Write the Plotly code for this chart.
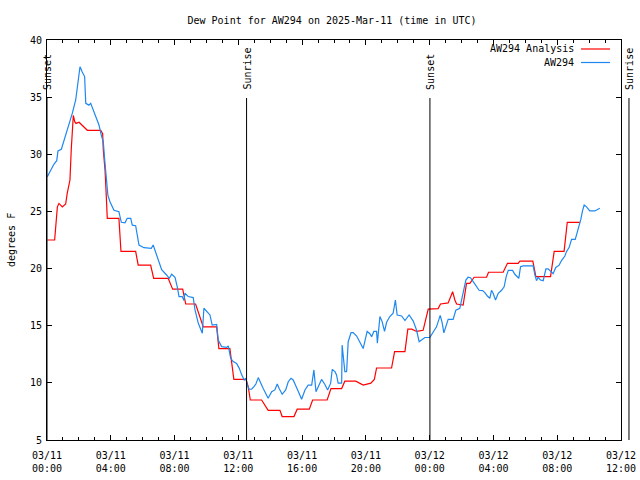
import pandas as pd
import plotly.graph_objects as go

# ---------------- data ----------------
start_time = "2025-03-11 00:00"
end_time = "2025-03-12 12:00"

# AW294 Analysis (hours since 2025-03-11 00:00 UTC, deg F)
analysis_hours = [0.02, 0.48, 0.65, 0.75, 0.96, 1.17, 1.27, 1.44, 1.52, 1.65, 1.74, 1.82, 2.01, 2.21,
                  2.53, 3.37, 3.49, 3.53, 3.64, 3.72, 3.78, 4.51, 4.64, 5.56, 5.72, 6.50, 6.69, 7.60,
                  7.88, 8.51, 8.70, 9.32, 9.80, 10.64, 10.78, 11.47, 11.64, 11.72, 12.48, 12.62, 12.75,
                  13.46, 13.87, 14.61, 14.75, 15.49, 15.69, 16.45, 16.66, 17.57, 17.81, 18.48, 18.68,
                  19.37, 19.83, 20.31, 20.53, 20.67, 21.61, 21.80, 22.45, 22.63, 22.88, 23.18, 23.59,
                  23.91, 24.53, 24.68, 25.16, 25.44, 25.58, 25.69, 26.10, 26.31, 26.52, 26.79, 27.57,
                  27.69, 28.61, 28.88, 29.55, 29.66, 30.47, 30.66, 31.58, 31.81, 32.43, 32.63, 33.42]
analysis_values = [22.5, 22.5, 25.4, 25.7, 25.4, 25.65, 26.6, 27.75, 30.4, 33.4, 32.85, 32.7, 32.8, 32.55,
                   32.1, 32.1, 31.8, 30.4, 28.6, 26.3, 24.4, 24.4, 21.5, 21.5, 20.3, 20.3, 19.15, 19.15,
                   18.2, 18.2, 16.9, 16.9, 14.9, 14.9, 13.0, 13.0, 10.85, 10.3, 10.3, 9.67, 8.5,
                   8.5, 7.6, 7.6, 7.05, 7.05, 7.7, 7.7, 8.5, 8.5, 9.5, 9.5, 10.15,
                   10.15, 9.8, 9.97, 10.3, 11.3, 11.3, 12.73, 12.73, 14.7, 14.7, 14.5, 14.6,
                   16.45, 16.5, 16.9, 17.0, 17.98, 17.25, 16.9, 16.8, 18.7, 18.7, 19.24, 19.24,
                   19.68, 19.68, 20.46, 20.46, 20.66, 20.66, 19.3, 19.3, 21.5, 21.5, 24.05, 24.05]

# AW294 observations (hours since 2025-03-11 00:00 UTC, deg F)
obs_hours = [0.02, 0.23, 0.44, 0.61, 0.69, 0.90, 1.02, 1.17, 1.38, 1.59, 1.80, 1.94, 2.07, 2.21, 2.36,
             2.43, 2.63, 2.74, 2.88, 3.05, 3.26, 3.40, 3.53, 3.62, 3.74, 3.82, 3.95, 4.09, 4.20, 4.51,
             4.66, 4.89, 5.03, 5.25, 5.35, 5.56, 5.77, 6.08, 6.54, 6.66, 6.77, 6.98, 7.19, 7.50, 7.67,
             7.82, 8.03, 8.17, 8.28, 8.48, 8.59, 8.65, 8.86, 9.17, 9.28, 9.49, 9.74, 9.84, 10.01, 10.22,
             10.36, 10.64, 10.74, 10.95, 11.27, 11.37, 11.52, 11.68, 11.89, 12.06, 12.21, 12.37, 12.48,
             12.56, 12.68, 12.83, 12.98, 13.10, 13.25, 13.35, 13.56, 13.87, 14.09, 14.29, 14.44, 14.56,
             14.75, 14.97, 15.13, 15.30, 15.44, 15.72, 15.97, 16.18, 16.38, 16.60, 16.74, 16.87, 17.05,
             17.22, 17.43, 17.60, 17.79, 17.89, 18.06, 18.16, 18.26, 18.48, 18.51, 18.62, 18.68, 18.79,
             18.89, 19.07, 19.20, 19.42, 19.62, 19.83, 20.08, 20.25, 20.36, 20.50, 20.67, 20.72, 20.88,
             21.02, 21.17, 21.30, 21.50, 21.71, 21.85, 21.96, 22.24, 22.45, 22.71, 22.97, 23.18, 23.34,
             23.49, 23.70, 24.01, 24.22, 24.43, 24.66, 24.78, 24.89, 25.05, 25.16, 25.47, 25.64, 25.89,
             26.00, 26.14, 26.27, 26.41, 26.56, 26.73, 26.94, 27.10, 27.32, 27.46, 27.62, 27.77, 27.88,
             27.98, 28.13, 28.30, 28.51, 28.67, 28.80, 28.93, 29.20, 29.34, 29.59, 29.70, 29.86, 30.49,
             30.60, 30.70, 30.80, 30.95, 31.12, 31.29, 31.43, 31.58, 31.74, 31.91, 32.12, 32.27, 32.48,
             32.58, 32.75, 32.90, 33.13, 33.25, 33.37, 33.48, 33.59, 33.69, 33.84, 34.04, 34.36, 34.56,
             34.67]
obs_values = [28.04, 28.6, 29.15, 29.44, 30.3, 30.44, 30.96, 31.7, 32.7, 33.6, 34.75, 36.2, 37.66, 37.2, 36.8,
              34.46, 34.3, 34.46, 33.9, 33.4, 32.56, 31.7, 31.1, 29.5, 27.75, 26.4, 25.85, 25.4, 25.1, 24.98,
              24.05, 24.0, 24.4, 24.4, 23.8, 23.75, 22.06, 21.83, 21.77, 22.06, 21.6, 20.6, 19.9, 19.44, 19.15,
              19.5, 19.24, 18.4, 17.55, 17.55, 17.2, 17.84, 17.55, 17.46, 16.4, 15.21, 14.34, 16.53, 16.23, 15.94,
              15.06, 15.12, 13.75, 13.17, 13.1, 13.23, 12.15, 11.86, 11.7, 11.27, 10.7, 10.25, 10.4,
              9.8, 9.44, 9.44, 9.67, 9.9, 10.46, 10.1, 9.5, 8.65, 9.23, 9.38, 9.9, 9.5,
              9.0, 9.38, 10.1, 10.4, 10.25, 9.38, 8.57, 9.38, 9.8, 9.8, 11.13, 9.23, 9.8,
              10.3, 9.86, 9.38, 9.97, 11.18, 10.98, 10.7, 9.97, 9.97, 13.3, 11.7, 10.98, 10.98,
              13.6, 14.4, 14.4, 14.1, 13.6, 13.0, 14.5, 14.3, 14.04, 14.5, 14.5, 13.46, 15.8,
              15.36, 14.5, 15.3, 15.8, 16.1, 17.25, 15.94, 15.85, 15.45, 15.94, 15.4, 14.6, 13.6,
              13.75, 13.97, 13.97, 14.45, 14.9, 15.9, 15.3, 14.37, 15.0, 15.56, 15.56, 16.35, 16.52,
              17.25, 18.28, 19.0, 19.24, 19.2, 18.86, 18.4, 18.1, 18.07, 17.9, 17.6, 17.4, 18.1,
              17.84, 17.25, 17.84, 18.1, 18.4, 19.3, 19.84, 19.84, 19.5, 19.15, 20.17, 20.23, 20.23,
              19.44, 18.94, 19.24, 19.0, 18.94, 19.97, 19.97, 19.73, 19.55, 20.1, 20.3, 20.7, 21.1,
              21.48, 21.86, 22.56, 22.56, 23.14, 23.67, 24.3, 25.07, 25.56, 25.4, 25.04, 25.04, 25.2,
              25.27]

event_names = ["Sunset", "Sunrise", "Sunset", "Sunrise"]
event_times = ["2025-03-11 00:00", "2025-03-11 12:31", "2025-03-12 00:01", "2025-03-12 12:30"]

series_names = ["AW294 Analysis", "AW294"]
series_colors = ["#ff0000", "#1e88f0"]

y_ticks = [5, 10, 15, 20, 25, 30, 35, 40]

# ---------------- figure ----------------
t0 = pd.Timestamp(start_time)
t1 = pd.Timestamp(end_time)
span = (t1 - t0).total_seconds()

def to_time(hours):
    return [t0 + pd.Timedelta(hours=h) for h in hours]

FONT = "DejaVu Sans Mono"
W, H = 640, 480
# plot box in pixels: left 47, right 621, top 40, bottom 440
ML, MT = 47, 40
MR = W - 621
MB = H - 440
PW, PH = W - ML - MR, H - MT - MB

def px_x(px):  # pixel -> paper
    return (px - ML) / PW

def px_y(py):
    return 1 - (py - MT) / PH

fig = go.Figure()
fig.add_trace(go.Scatter(x=to_time(analysis_hours), y=analysis_values, mode="lines",
                         name=series_names[0], line=dict(color=series_colors[0], width=1.2),
                         showlegend=False))
fig.add_trace(go.Scatter(x=to_time(obs_hours), y=obs_values, mode="lines",
                         name=series_names[1], line=dict(color=series_colors[1], width=1.2),
                         showlegend=False))

shapes = []
annotations = []
for name, et in zip(event_names, event_times):
    xp = (pd.Timestamp(et) - t0).total_seconds() / span
    shapes.append(dict(type="line", xref="paper", yref="paper", x0=xp, x1=xp,
                       y0=0, y1=px_y(98), line=dict(color="black", width=1)))
    annotations.append(dict(text=name, xref="paper", yref="paper", x=xp, y=px_y(92),
                            xanchor="center", yanchor="bottom", textangle=-90, showarrow=False,
                            font=dict(family=FONT, size=10, color="black")))

# legend drawn as text + sample line (text right-aligned, line on the right)
for i, (nm, col) in enumerate(zip(series_names, series_colors)):
    ypx = 49 + 13.5 * i
    annotations.append(dict(text=nm, xref="paper", yref="paper", x=px_x(576), y=px_y(ypx),
                            xanchor="right", yanchor="middle", showarrow=False,
                            font=dict(family=FONT, size=10, color="black")))
    shapes.append(dict(type="line", xref="paper", yref="paper", x0=px_x(581), x1=px_x(610),
                       y0=px_y(ypx), y1=px_y(ypx), line=dict(color=col, width=1.2)))

# y axis title
annotations.append(dict(text="degrees F", xref="paper", yref="paper", x=px_x(11), y=0.5,
                        xanchor="center", yanchor="middle", textangle=-90, showarrow=False,
                        font=dict(family=FONT, size=10, color="black")))

fig.update_layout(
    width=W, height=H,
    margin=dict(l=ML, r=MR, t=MT, b=MB, autoexpand=False),
    paper_bgcolor="white", plot_bgcolor="white",
    font=dict(family=FONT, size=10, color="black"),
    title=dict(text="Dew Point for AW294 on 2025-Mar-11 (time in UTC)", x=332 / W,
               xref="container", xanchor="center", y=1 - 20 / H, yref="container",
               yanchor="middle", font=dict(family=FONT, size=10, color="black")),
    showlegend=False,
    shapes=shapes,
    annotations=annotations,
    xaxis=dict(type="date", range=[t0, t1], showgrid=False, zeroline=False,
               showline=True, linecolor="black", linewidth=1, mirror="allticks",
               ticks="inside", ticklen=5, tickcolor="black", tickwidth=1,
               tick0=t0, dtick=4 * 3600 * 1000, tickformat="%m/%d<br>%H:%M",
               ticklabelstandoff=6,
               minor=dict(ticks="inside", ticklen=3, dtick=3600 * 1000, tick0=t0,
                          tickcolor="black", showgrid=False),
               tickfont=dict(family=FONT, size=10, color="black")),
    yaxis=dict(range=[5, 40], showgrid=False, zeroline=False,
               showline=True, linecolor="black", linewidth=1, mirror="allticks",
               ticks="inside", ticklen=5, tickcolor="black", tickwidth=1,
               tickvals=y_ticks, ticktext=[str(v) for v in y_ticks],
               ticklabelstandoff=2,
               tickfont=dict(family=FONT, size=10, color="black")),
)

# remove the browser's default body margin so the figure fills the window exactly
fig.write_html("out.html", config={"displayModeBar": False},
               post_script="document.body.style.margin='0';document.body.style.padding='0';")
